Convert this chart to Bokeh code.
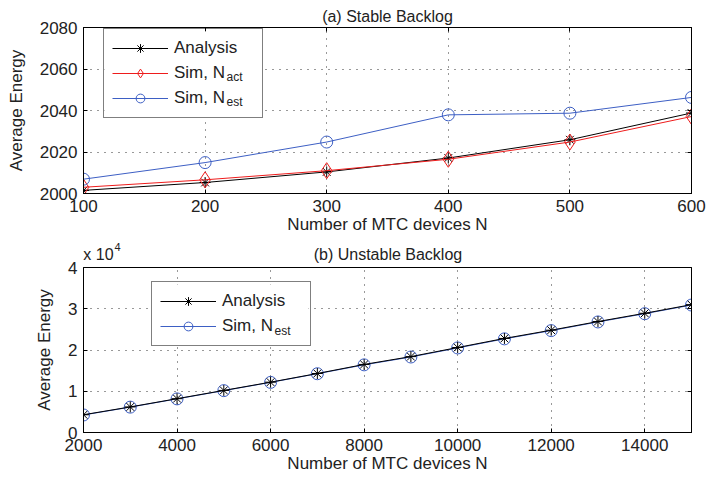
from bokeh.plotting import figure
from bokeh.models import (FixedTicker, LinearAxis, Legend, LegendItem, Label,
                          CustomJSTickFormatter, Range1d, BoxAnnotation)
from bokeh.layouts import column
from bokeh.embed import file_html
from bokeh.resources import INLINE

# ---------------- data ----------------
# (a) Stable Backlog
n_a = [100, 200, 300, 400, 500, 600]
analysis_a = [2001.5, 2005.3, 2010.4, 2017.1, 2025.9, 2038.8]
sim_act_a = [2003.0, 2006.6, 2011.0, 2016.5, 2024.8, 2037.1]
sim_est_a = [2006.9, 2014.9, 2024.8, 2037.9, 2038.7, 2046.3]
xticks_a = [100, 200, 300, 400, 500, 600]
yticks_a = [2000, 2020, 2040, 2060, 2080]

# (b) Unstable Backlog
n_b = [2000, 3000, 4000, 5000, 6000, 7000, 8000, 9000, 10000, 11000,
       12000, 13000, 14000, 15000]
analysis_b = [4300, 6200, 8200, 10200, 12200, 14300, 16500, 18400, 20600,
              22800, 24800, 26900, 28900, 31000]
sim_est_b = [4250, 6150, 8150, 10150, 12150, 14250, 16400, 18300, 20500,
             22700, 24700, 26800, 28800, 30900]
xticks_b = [2000, 4000, 6000, 8000, 10000, 12000, 14000]
yticks_b = [0, 10000, 20000, 30000, 40000]

FONT = "Liberation Sans"
TXT = "#222222"
RED = "#ee1c1c"
BLUE = "#3d5fc4"


def make_fig(title, xr, yr, xt, yt, fh, top, top_ticks=True):
    p = figure(frame_width=608, frame_height=fh, output_backend="svg",
               toolbar_location=None, x_range=Range1d(*xr), y_range=Range1d(*yr),
               min_border_left=83, min_border_right=15, min_border_top=top,
               min_border_bottom=46, title=title)
    if title is not None:
        p.title.align = "center"
        p.title.text_font = FONT
        p.title.text_font_size = "16px"
        p.title.text_font_style = "normal"
        p.title.text_color = TXT
        p.title.standoff = 6
    p.outline_line_color = "black"
    p.outline_line_width = 1
    for ax in (p.xaxis[0], p.yaxis[0]):
        ax.major_tick_in = 4
        ax.major_tick_out = 0
        ax.minor_tick_line_color = None
        ax.axis_line_color = "black"
        ax.major_tick_line_color = "black"
        ax.major_label_text_font = FONT
        ax.major_label_text_font_size = "17px"
        ax.major_label_text_color = TXT
        ax.axis_label_text_font = FONT
        ax.axis_label_text_font_size = "17px"
        ax.axis_label_text_font_style = "normal"
        ax.axis_label_text_color = TXT
        ax.major_label_standoff = 6
    p.xaxis[0].ticker = FixedTicker(ticks=xt)
    p.yaxis[0].ticker = FixedTicker(ticks=yt)
    p.xaxis[0].axis_label = "Number of MTC devices N"
    p.yaxis[0].axis_label = "Average Energy"
    p.xaxis[0].axis_label_standoff = 0
    p.yaxis[0].axis_label_standoff = 11
    p.xgrid.ticker = FixedTicker(ticks=xt)
    p.ygrid.ticker = FixedTicker(ticks=yt)
    for g in (p.xgrid[0], p.ygrid[0]):
        g.grid_line_color = "#333333"
        g.grid_line_dash = "1 6"
        g.grid_line_width = 1
    # ticks on top and right (box)
    sides = [("right", yt)]
    if top_ticks:
        sides.append(("above", xt))
    for side, tk in sides:
        a = LinearAxis(ticker=FixedTicker(ticks=tk), major_tick_in=4,
                       major_tick_out=0, minor_tick_line_color=None,
                       formatter=CustomJSTickFormatter(code="return '';"),
                       major_label_standoff=0,
                       axis_line_color="black", major_tick_line_color="black")
        p.add_layout(a, side)
    return p


def legend_box(p, left, bottom, w, h):
    p.add_layout(BoxAnnotation(left=left + 1, right=left + w - 1,
                               bottom=bottom + 1, top=bottom + h - 1,
                               left_units="screen", right_units="screen",
                               bottom_units="screen", top_units="screen",
                               fill_color="white", fill_alpha=1, line_color=None))


def style_legend(lg, loc):
    lg.location = loc
    lg.border_line_color = "black"
    lg.border_line_width = 1
    lg.background_fill_alpha = 0
    lg.label_text_font = FONT
    lg.label_text_font_size = "17px"
    lg.label_text_color = TXT
    lg.glyph_width = 56
    lg.glyph_height = 22
    lg.label_height = 22
    lg.label_width = 80
    lg.label_standoff = 6
    lg.padding = 8
    lg.spacing = 3
    lg.margin = 0


def sub(p, text, x, y, size="12px"):
    p.add_layout(Label(x=x, y=y, x_units="screen", y_units="screen", text=text,
                       text_font=FONT, text_font_size=size, text_color=TXT,
                       text_baseline="middle", text_align="left"))


def header_axis(p, labels, size, standoff):
    ticks = list(labels.keys())
    ax = LinearAxis(ticker=FixedTicker(ticks=ticks), major_label_overrides=labels,
                    major_tick_in=0, major_tick_out=0,
                    major_tick_line_color=None, minor_tick_line_color=None,
                    axis_line_color=None, major_label_standoff=standoff,
                    major_label_text_font=FONT, major_label_text_font_size=size,
                    major_label_text_color=TXT)
    p.add_layout(ax, "above")


# ---------------- (a) ----------------
p1 = make_fig("(a) Stable Backlog", (100, 600), (2000, 2080), xticks_a, yticks_a, 166, 27)
la = p1.line(n_a, analysis_a, line_color="black", line_width=1)
sa = p1.scatter(n_a, analysis_a, marker="asterisk", size=11, line_color="black")
lr = p1.line(n_a, sim_act_a, line_color=RED, line_width=1)
sr = p1.scatter(n_a, sim_act_a, marker="diamond", size=16, line_color=RED, fill_color=None)
lb = p1.line(n_a, sim_est_a, line_color=BLUE, line_width=1)
sb = p1.scatter(n_a, sim_est_a, marker="circle", size=12, line_color=BLUE, fill_color=None)
legend_box(p1, 20, 75, 158, 88)
sub(p1, "act", 143, 117)
sub(p1, "est", 143, 92)
leg1 = Legend(items=[LegendItem(label="Analysis", renderers=[la, sa]),
                     LegendItem(label="Sim, N", renderers=[lr, sr]),
                     LegendItem(label="Sim, N", renderers=[lb, sb])])
style_legend(leg1, (20, 75))
p1.add_layout(leg1)

# ---------------- (b) ----------------
xr_b = (2000, 15000)
p2 = make_fig(None, xr_b, (0, 40000), xticks_b, yticks_b, 165, 28, top_ticks=False)
p2.yaxis[0].formatter = CustomJSTickFormatter(code="return (tick/10000).toFixed(0);")
# header row above frame: exponent note at left, panel title at centre
span = xr_b[1] - xr_b[0]
pos_x10 = int(xr_b[0] + span * 15 / 608)
pos_exp = int(xr_b[0] + span * 34 / 608)
pos_title = int(xr_b[0] + span * 304.5 / 608)
header_axis(p2, {pos_x10: "x 10", pos_title: "(b) Unstable Backlog"}, "16px", 5)
header_axis(p2, {pos_exp: "4"}, "11px", -8)
lb2 = p2.line(n_b, sim_est_b, line_color=BLUE, line_width=1)
sb2 = p2.scatter(n_b, sim_est_b, marker="circle", size=12, line_color=BLUE, fill_color=None)
la2 = p2.line(n_b, analysis_b, line_color="black", line_width=1)
sa2 = p2.scatter(n_b, analysis_b, marker="asterisk", size=11, line_color="black")
legend_box(p2, 68, 86, 158, 63)
sub(p2, "est", 191, 102)
leg2 = Legend(items=[LegendItem(label="Analysis", renderers=[la2, sa2]),
                     LegendItem(label="Sim, N", renderers=[lb2, sb2])])
style_legend(leg2, (68, 86))
p2.add_layout(leg2)

layout = column(p1, p2, spacing=0)
open("out.html", "w").write(file_html(layout, INLINE))
